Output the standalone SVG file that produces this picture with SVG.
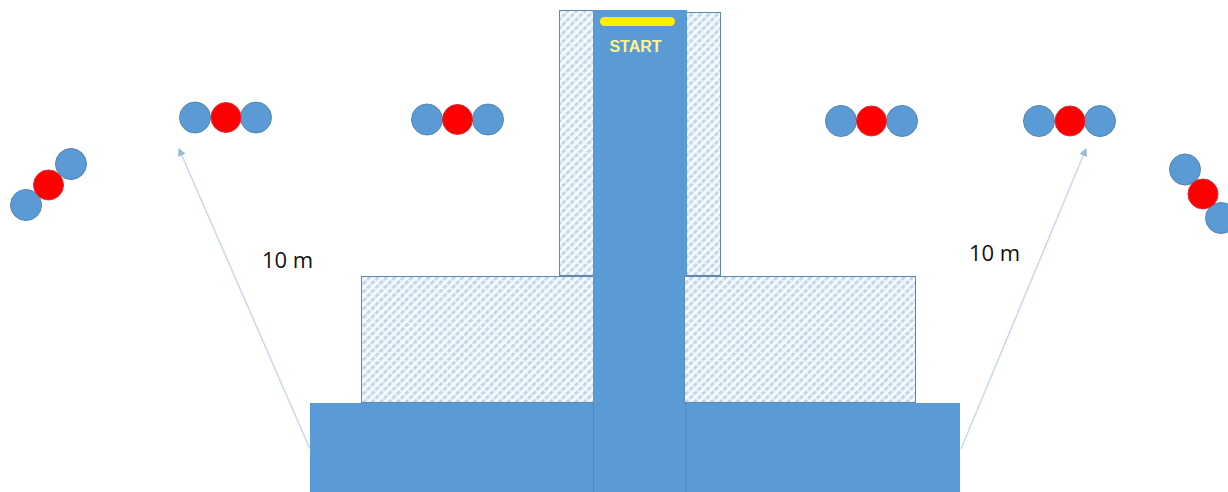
<svg xmlns="http://www.w3.org/2000/svg" width="1228" height="492" viewBox="0 0 1228 492">
<style>
.b{fill:#5b9bd5;stroke:#5586b0;stroke-width:1}
.r{fill:#fe0000;stroke:#d0303c;stroke-width:1}
.h{fill:url(#hatch);stroke:#5f88ad;stroke-width:1}
.s{fill:#5b9bd5;stroke:none}
.c{stroke:#c9d9ea;stroke-width:1.500;fill:none;marker-end:url(#arrow)}
.t{font-family:"Open Sans","Liberation Sans",sans-serif;font-size:22px;fill:#111}
</style>
<defs>
<pattern id="hatch" width="6" height="6" patternUnits="userSpaceOnUse" patternTransform="rotate(-45)">
<rect width="6" height="6" fill="#f3f8fc"/>
<rect width="6" height="2.800" fill="#bfd4e9"/>
<rect x="0" width="1.500" height="6" fill="#f3f8fc"/>
</pattern>
<marker id="arrow" markerWidth="9" markerHeight="9" refX="7" refY="4" orient="auto" markerUnits="userSpaceOnUse">
<path d="M0 0L8 4L0 8Z" fill="#9db8d2"/>
</marker>
</defs>
<g id="base">
<rect class="s" x="310" y="403" width="650" height="89"/>
</g>
<g id="upper-left-block"><rect class="h" x="559.500" y="10.500" width="34" height="265"/></g>
<g id="upper-right-block"><rect class="h" x="686.500" y="12.500" width="34" height="263"/></g>
<g id="lower-left-block"><rect class="h" x="361.500" y="276.500" width="232" height="126"/></g>
<g id="track">
<rect class="s" x="593" y="10" width="94" height="393"/>
<rect class="s" x="593" y="403" width="93" height="89"/>
<path d="M593.500 403V492M686 403V492" stroke="#4f86b8" fill="none"/>
</g>
<g id="lower-right-block"><rect class="h" x="684.500" y="276.500" width="231" height="126"/></g>
<g id="start">
<rect x="600" y="17" width="75" height="9" rx="4.500" fill="#ffee00"/>
<text x="635.500" y="52" text-anchor="middle" font-family="'Liberation Sans',sans-serif" font-size="16" font-weight="700" fill="#fdf58a">START</text>
</g>
<g id="connectors">
<line class="c" x1="310" y1="449" x2="179" y2="149"/>
<line class="c" x1="961" y1="449" x2="1086" y2="149"/>
</g>
<g id="label-left"><text class="t" x="262" y="268">10 m</text></g>
<g id="label-right"><text class="t" x="969" y="261">10 m</text></g>
<g id="group-1"><circle class="b" cx="26" cy="205" r="15.500"/><circle class="b" cx="71" cy="164" r="15.500"/><circle class="r" cx="48.500" cy="185" r="15"/></g>
<g id="group-2"><circle class="b" cx="195" cy="117.500" r="15.500"/><circle class="b" cx="256" cy="117.500" r="15.500"/><circle class="r" cx="226" cy="117.500" r="15"/></g>
<g id="group-3"><circle class="b" cx="427" cy="119.500" r="15.500"/><circle class="b" cx="488" cy="119.500" r="15.500"/><circle class="r" cx="457.500" cy="119.500" r="15"/></g>
<g id="group-4"><circle class="b" cx="841" cy="121" r="15.500"/><circle class="b" cx="902" cy="121" r="15.500"/><circle class="r" cx="871.500" cy="121" r="15"/></g>
<g id="group-5"><circle class="b" cx="1039" cy="121" r="15.500"/><circle class="b" cx="1100" cy="121" r="15.500"/><circle class="r" cx="1070" cy="121" r="15"/></g>
<g id="group-6"><circle class="b" cx="1185" cy="169.500" r="15.500"/><circle class="b" cx="1221" cy="218" r="15.500"/><circle class="r" cx="1203" cy="194" r="15"/></g>
</svg>
